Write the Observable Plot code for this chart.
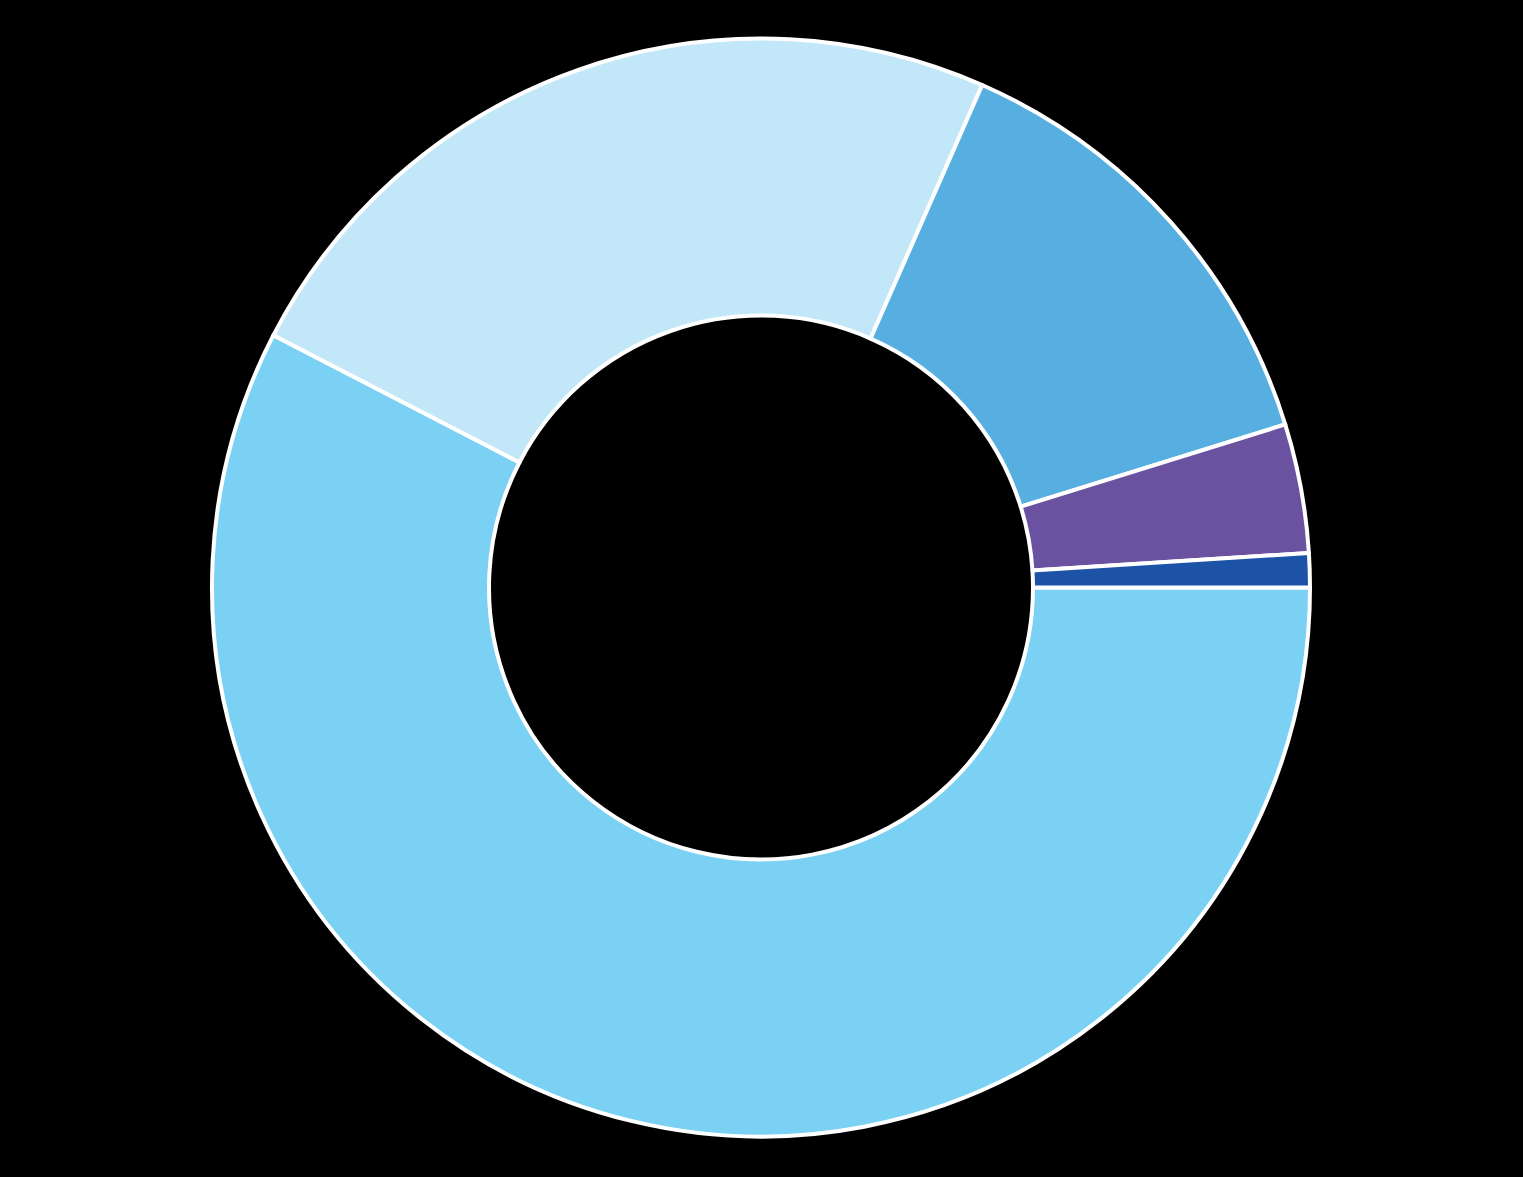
<!DOCTYPE html>
<html>
<head>
<meta charset="utf-8">
<script src="https://cdn.jsdelivr.net/npm/d3@7"></script>
<script src="https://cdn.jsdelivr.net/npm/@observablehq/plot@0.6"></script>
<style>
  html, body { margin: 0; padding: 0; background: #000; }
  #chart { width: 1523px; height: 1177px; }
</style>
</head>
<body>
<div id="chart"></div>
<script>
// Data (shares in %, clockwise from 3 o'clock)
const categories = ["Segment 1", "Segment 2", "Segment 3", "Segment 4", "Segment 5"];
const shares = [57.6, 24.0, 13.6, 3.8, 1.0];
const sliceColors = ["#7AD1F4", "#C1E7F9", "#57AFE1", "#6B52A0", "#1D53A6"];

const data = categories.map((c, i) => ({category: c, value: shares[i]}));

const W = 1523, H = 1177;
const cx = 761, cy = 587.5, R = 549, r = 272;

const donut = (index, scales, values, dimensions, context) => {
  const pie = d3.pie().sort(null).value(d => d.value)
    .startAngle(Math.PI / 2).endAngle(Math.PI / 2 + 2 * Math.PI);
  const x0 = scales.x(0), y0 = scales.y(0);
  const outer = Math.abs(scales.x(1) - scales.x(0));
  const inner = outer * r / R;
  const arc = d3.arc().innerRadius(inner).outerRadius(outer);
  const g = d3.create("svg:g").attr("transform", `translate(${x0},${y0})`);
  g.selectAll("path")
    .data(pie(data))
    .join("path")
    .attr("d", arc)
    .attr("fill", d => scales.color(d.data.category))
    .attr("stroke", "#fff")
    .attr("stroke-width", 4)
    .attr("stroke-linejoin", "round");
  return g.node();
};

const chart = Plot.plot({
  width: W,
  height: H,
  margin: 0,
  style: {background: "#000", overflow: "visible"},
  x: {domain: [-1, 1], range: [cx - R, cx + R], axis: null},
  y: {domain: [-1, 1], range: [cy + R, cy - R], axis: null},
  color: {type: "ordinal", domain: categories, range: sliceColors},
  marks: [donut]
});
document.getElementById("chart").appendChild(chart);
</script>
</body>
</html>
